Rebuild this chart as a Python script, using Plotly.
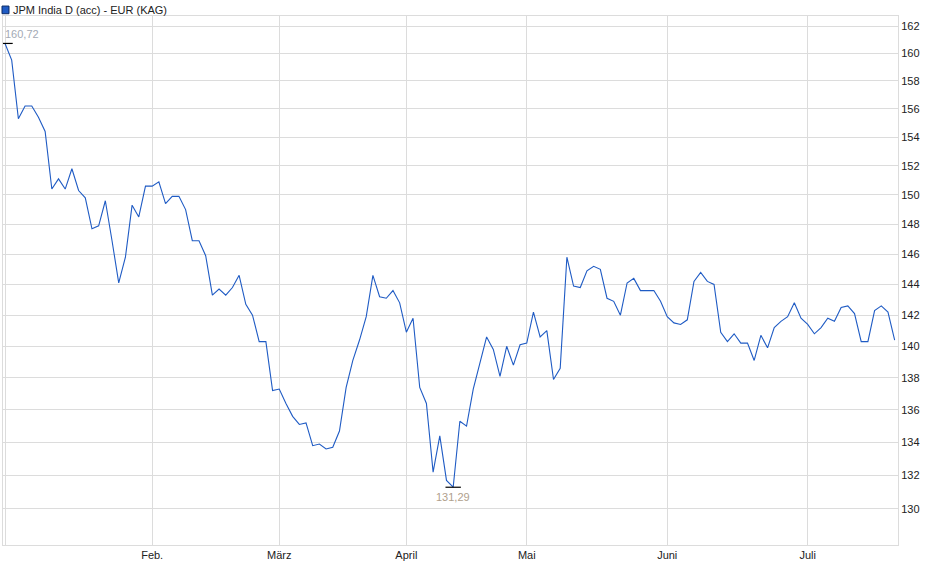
import math
import plotly.graph_objects as go

# Kursverlauf JPM India D (acc) - EUR, Jan-Jul
kurs = [160.72, 159.5, 155.3, 156.2, 156.2, 155.4, 154.4, 150.4, 151.1, 150.4,
        151.8, 150.3, 149.8, 147.7, 147.9, 149.6, 146.9, 144.1, 145.8, 149.3,
        148.5, 150.6, 150.6, 150.9, 149.4, 149.9, 149.9, 149.0, 146.9, 146.9,
        145.9, 143.3, 143.7, 143.3, 143.8, 144.6, 142.7, 142.0, 140.3, 140.3,
        137.2, 137.3, 136.4, 135.6, 135.1, 135.2, 133.8, 133.9, 133.6, 133.7,
        134.7, 137.4, 139.1, 140.4, 141.9, 144.6, 143.2, 143.1, 143.6, 142.8,
        140.9, 141.8, 137.4, 136.4, 132.2, 134.4, 131.7, 131.29, 135.3, 135.0,
        137.3, 139.0, 140.6, 139.8, 138.1, 140.0, 138.8, 140.1, 140.2, 142.2,
        140.6, 141.0, 137.9, 138.6, 145.8, 143.9, 143.8, 144.9, 145.2, 145.0,
        143.1, 142.9, 142.0, 144.1, 144.4, 143.6, 143.6, 143.6, 142.9, 141.9,
        141.5, 141.4, 141.7, 144.2, 144.8, 144.2, 144.0, 140.9, 140.3, 140.8,
        140.2, 140.2, 139.1, 140.7, 139.9, 141.2, 141.6, 141.9, 142.8, 141.8,
        141.4, 140.8, 141.2, 141.8, 141.6, 142.5, 142.6, 142.1, 140.3, 140.3,
        142.3, 142.6, 142.2, 140.4]

monate = ["Feb.", "März", "April", "Mai", "Juni", "Juli"]
monat_idx = [22, 41, 60, 78, 99, 120]

y_ticks = list(range(130, 163, 2))

x = list(range(len(kurs)))
i_max = kurs.index(max(kurs))
i_min = kurs.index(min(kurs))

def de(v):
    return f"{v:.2f}".replace(".", ",")

fig = go.Figure()
fig.add_trace(go.Scatter(x=x, y=kurs, mode="lines",
                         line=dict(color="#1f5bc4", width=1.1),
                         name="JPM India D (acc) - EUR (KAG)", showlegend=False))
fig.add_trace(go.Scatter(x=[i_max, i_min], y=[kurs[i_max], kurs[i_min]], mode="markers",
                         marker=dict(symbol="line-ew", size=11, color="black",
                                     line=dict(width=1.2, color="black")),
                         showlegend=False, hoverinfo="skip"))

# Hoch / Tief (log-Achse: Annotationen in log10)
fig.add_annotation(x=i_max, y=math.log10(kurs[i_max]), text=de(kurs[i_max]), showarrow=False,
                   xanchor="left", yanchor="bottom", xshift=-2, yshift=1,
                   font=dict(size=11, color="#a3aab5"))
fig.add_annotation(x=i_min, y=math.log10(kurs[i_min]), text=de(kurs[i_min]), showarrow=False,
                   xanchor="center", yanchor="top", yshift=-2,
                   font=dict(size=11, color="#b0a08c"))

# Legende oben links
fig.add_shape(type="rect", xref="paper", yref="paper",
              x0=-0.0011, x1=0.0067, y0=1.0043, y1=1.0188,
              fillcolor="#1f5bc4", line=dict(color="#0b2a66", width=1))
fig.add_annotation(xref="paper", yref="paper", x=0.009, y=1.012,
                   text="JPM India D (acc) - EUR (KAG)", showarrow=False,
                   xanchor="left", yanchor="middle",
                   font=dict(size=11, color="#222222"))

fig.update_layout(
    width=940, height=579,
    margin=dict(l=3, r=42, t=16, b=34),
    paper_bgcolor="white", plot_bgcolor="white",
    font=dict(family="Liberation Sans, Arial, sans-serif", size=11, color="#222222"),
)
fig.update_xaxes(range=[-0.3, 133.5], tickvals=monat_idx, ticktext=monate,
                 showgrid=True, gridcolor="#dcdcdc", gridwidth=1,
                 zeroline=True, zerolinecolor="#dcdcdc", zerolinewidth=1,
                 showline=True, linecolor="#dcdcdc", mirror=True,
                 ticks="", tickfont=dict(size=11, color="#222222"))
fig.update_yaxes(type="log", range=[2.1068, 2.2115], side="right",
                 tickvals=y_ticks, ticktext=[str(t) for t in y_ticks],
                 showgrid=True, gridcolor="#dcdcdc", gridwidth=1,
                 showline=True, linecolor="#dcdcdc", mirror=True,
                 ticks="", tickfont=dict(size=11, color="#222222"))

fig.write_html("out.html", config={"displayModeBar": False},
               post_script="document.body.style.margin='0px';")
